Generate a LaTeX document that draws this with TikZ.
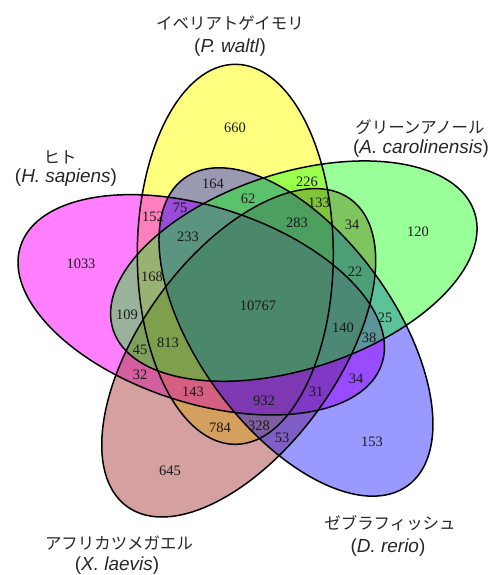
\documentclass[tikz,border=0pt]{standalone}
\usepackage{fontspec}
\setmainfont{Liberation Serif}
\newfontfamily\labfont{Liberation Sans}
\newfontfamily\jpfont{Noto Sans CJK JP}
\usetikzlibrary{calc}

% set colours (drawn with partial opacity, order matters for the blends)
\definecolor{setY}{RGB}{255,255,0}
\definecolor{setM}{RGB}{255,0,255}
\definecolor{setR}{RGB}{170,65,65}
\definecolor{setB}{RGB}{0,0,255}
\definecolor{setG}{RGB}{0,255,0}

\begin{document}
\begin{tikzpicture}[x=1bp,y=1bp,
  num/.style={font=\fontsize{14.5}{16}\selectfont, inner sep=0pt, text=black!90},
  jp/.style={font=\jpfont\fontsize{16.5}{19}\selectfont, inner sep=0pt, text=black!85},
  sci/.style={font=\labfont\fontsize{19}{22}\selectfont, inner sep=0pt, text=black!85},
  outline/.style={draw=black, line width=1.5bp},
  ell/.style={x radius=190bp, y radius=98bp},
]
\useasboundingbox (0,0) rectangle (495,-575);

% common centre of the five-fold arrangement
\coordinate (C) at (253,-303);
\coordinate (cY) at ($(C)+(110:51.8)$);
\coordinate (cM) at ($(C)+(182:51.8)$);
\coordinate (cR) at ($(C)+(254:51.8)$);
\coordinate (cB) at ($(C)+(326:51.8)$);
\coordinate (cG) at ($(C)+(38:51.8)$);

% translucent fills
\fill[setY, fill opacity=0.5, rotate around={90:(cY)}]  (cY) ellipse [ell];
\fill[setM, fill opacity=0.5, rotate around={162:(cM)}] (cM) ellipse [ell];
\fill[setR, fill opacity=0.5, rotate around={234:(cR)}] (cR) ellipse [ell];
\fill[setB, fill opacity=0.4, rotate around={306:(cB)}] (cB) ellipse [ell];
\fill[setG, fill opacity=0.4, rotate around={18:(cG)}]  (cG) ellipse [ell];

% outlines on top
\draw[outline, rotate around={90:(cY)}]  (cY) ellipse [ell];
\draw[outline, rotate around={162:(cM)}] (cM) ellipse [ell];
\draw[outline, rotate around={234:(cR)}] (cR) ellipse [ell];
\draw[outline, rotate around={306:(cB)}] (cB) ellipse [ell];
\draw[outline, rotate around={18:(cG)}]  (cG) ellipse [ell];

% region counts
\node[num] (n660)   at (235,-128) {660};
\node[num] (n164)   at (213,-184) {164};
\node[num] (n226)   at (307,-182) {226};
\node[num] (n62)    at (248,-199) {62};
\node[num] (n133)   at (319,-203) {133};
\node[num] (n152)   at (153,-217) {152};
\node[num] (n75)    at (180,-208) {75};
\node[num] (n233)   at (188,-237) {233};
\node[num] (n283)   at (297,-223) {283};
\node[num] (n34a)   at (352,-225) {34};
\node[num] (n120)   at (418,-232) {120};
\node[num] (n1033)  at (81,-264)  {1033};
\node[num] (n168)   at (152,-277) {168};
\node[num] (n22)    at (355,-272) {22};
\node[num] (n109)   at (127,-315) {109};
\node[num] (n10767) at (258,-306) {10767};
\node[num] (n140)   at (343,-328) {140};
\node[num] (n25)    at (385,-318) {25};
\node[num] (n38)    at (369,-338) {38};
\node[num] (n45)    at (140,-350) {45};
\node[num] (n813)   at (168,-343) {813};
\node[num] (n32)    at (140,-375) {32};
\node[num] (n143)   at (193,-392) {143};
\node[num] (n932)   at (264,-401) {932};
\node[num] (n31)    at (316,-392) {31};
\node[num] (n34b)   at (356,-379) {34};
\node[num] (n784)   at (220,-428) {784};
\node[num] (n328)   at (259,-426) {328};
\node[num] (n53)    at (282,-438) {53};
\node[num] (n153)   at (372,-442) {153};
\node[num] (n645)   at (170,-471) {645};

% species labels
\node[jp]  (tY) at (230,-23)  {イベリアトゲイモリ};
\node[sci] (sY) at (230,-48)  {(\textit{P. waltl})};
\node[jp]  (tM) at (60,-157)  {ヒト};
\node[sci] (sM) at (66,-178)  {(\textit{H. sapiens})};
\node[jp]  (tG) at (420,-127) {グリーンアノール};
\node[sci] (sG) at (421,-149) {(\textit{A. carolinensis})};
\node[jp]  (tR) at (119,-543) {アフリカツメガエル};
\node[sci] (sR) at (117,-566) {(\textit{X. laevis})};
\node[jp]  (tB) at (390,-523) {ゼブラフィッシュ};
\node[sci] (sB) at (388,-548) {(\textit{D. rerio})};
\end{tikzpicture}
\end{document}
